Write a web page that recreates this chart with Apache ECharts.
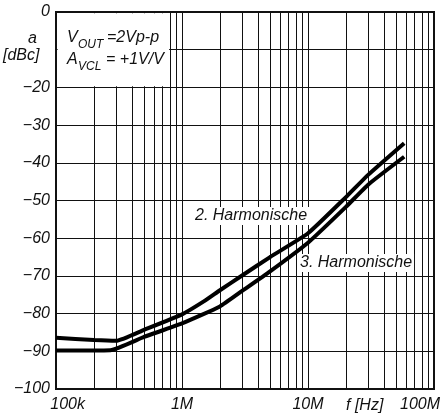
<!DOCTYPE html>
<html>
<head>
<meta charset="utf-8">
<script src="https://cdn.jsdelivr.net/npm/echarts@6/dist/echarts.min.js"></script>
<style>
  html, body { margin: 0; padding: 0; background: #fff; }
  #chart { width: 446px; height: 417px; }
</style>
</head>
<body>
<div id="chart"></div>
<script>
// frequency points (Hz) and distortion (dBc)
const freqs2 = [1e5, 2e5, 3e5, 5e5, 1e6, 1.5e6, 2e6, 3e6, 5e6, 1e7, 2e7, 3e7, 5.8e7]
const harm2 = [-86.4, -87.0, -87.2, -84.3, -80.2, -76.7, -73.8, -69.9, -65.0, -58.7, -49.1, -43.2, -34.8]
const freqs3 = [1e5, 2.7e5, 5e5, 1e6, 2e6, 3e6, 5e6, 1e7, 2e7, 3e7, 5.8e7]
const harm3 = [-89.8, -89.7, -86.2, -82.6, -78.1, -74.0, -68.8, -61.2, -51.7, -45.8, -38.4]

// tick labels
const xTicks = [1e5, 1e6, 1e7, 1e8]
const xTickLabels = ['100k', '1M', '10M', '100M']
const decades = [1e5, 1e6, 1e7]
const minorSteps = [2, 3, 4, 5, 6, 7, 8, 9]

const FONT = '"Liberation Sans", Arial, sans-serif'
const INK = '#111'
const FS = 16

const chart = echarts.init(document.getElementById('chart'))

// minor log grid lines 2..9 per decade
const minorLines = []
decades.forEach(d => minorSteps.forEach(m => minorLines.push({ xAxis: d * m })))

const pair = (xs, ys) => xs.map((x, i) => [x, ys[i]])
const txt = (text, left, top, size, extra) => ({
  type: 'text', left, top, z: 10,
  style: Object.assign({ text, font: 'italic ' + size + 'px ' + FONT, fill: INK }, extra || {})
})
const labelStyle = { fontFamily: FONT, fontStyle: 'italic', fontSize: FS, color: INK }

const option = {
  animation: false,
  grid: {
    left: 56, right: 12, top: 12, bottom: 28,
    show: true, borderColor: INK, borderWidth: 2, backgroundColor: '#fff'
  },
  xAxis: {
    type: 'log', logBase: 10, min: 1e5, max: 1e8,
    axisLine: { show: false },
    axisTick: { show: false },
    splitLine: { show: true, lineStyle: { color: INK, width: 1 } },
    axisLabel: {
      margin: 8,
      showMinLabel: true, showMaxLabel: true,
      formatter: v => {
        const i = xTicks.findIndex(t => Math.abs(Math.log10(t) - Math.log10(v)) < 1e-6)
        if (i < 0) return ''
        if (i === 0) return '{first|' + xTickLabels[i] + '}'
        if (i === xTicks.length - 1) return '{last|' + xTickLabels[i] + '}'
        return '{mid|' + xTickLabels[i] + '}'
      },
      rich: {
        first: Object.assign({ width: 58, align: 'right' }, labelStyle),
        mid: labelStyle,
        last: Object.assign({ width: 68, align: 'left' }, labelStyle)
      }
    }
  },
  yAxis: {
    type: 'value', min: -100, max: 0, interval: 10,
    axisLine: { show: false },
    axisTick: { show: false },
    splitLine: { show: true, lineStyle: { color: INK, width: 1 } },
    axisLabel: Object.assign({
      margin: 6,
      formatter: v => v === -10 ? '' : (v < 0 ? '\u2212' + (-v) : String(v))
    }, labelStyle)
  },
  series: [
    {
      type: 'line', data: [], silent: true, z: 2,
      markLine: {
        silent: true, symbol: ['none', 'none'], z: 2,
        label: { show: false },
        lineStyle: { color: INK, width: 1, type: 'solid' },
        data: minorLines
      }
    },
    {
      name: '2. Harmonische', type: 'line', z: 4,
      data: pair(freqs2, harm2),
      showSymbol: false, smooth: 0.15,
      lineStyle: { color: '#000', width: 4 }
    },
    {
      name: '3. Harmonische', type: 'line', z: 4,
      data: pair(freqs3, harm3),
      showSymbol: false, smooth: 0.15,
      lineStyle: { color: '#000', width: 4 }
    }
  ],
  graphic: [
    txt('a', 28, 31, FS),
    txt('[dBc]', 3, 48, FS),
    txt('V', 67, 30, FS),
    txt('OUT', 78, 39, 12),
    txt('=2Vp-p', 107, 30, FS),
    txt('A', 67, 52, FS),
    txt('VCL', 78, 61, 12),
    txt('= +1V/V', 106, 52, FS),
    txt('2. Harmonische', 193, 207, FS, { backgroundColor: '#fff', padding: [1, 2] }),
    txt('3. Harmonische', 298, 254, FS, { backgroundColor: '#fff', padding: [1, 2] }),
    txt('f [Hz]', 346, 398, FS)
  ]
}

chart.setOption(option)

// white box behind the operating conditions, placed through the axes
const p0 = chart.convertToPixel({ gridIndex: 0 }, [1.03e5, -0.3])
const p1 = chart.convertToPixel({ gridIndex: 0 }, [7.9e5, -19.7])
option.graphic.unshift({
  type: 'rect', z: 6, silent: true,
  shape: { x: p0[0], y: p0[1], width: p1[0] - p0[0], height: p1[1] - p0[1] },
  style: { fill: '#fff' }
})
chart.setOption(option, true)
</script>
</body>
</html>
